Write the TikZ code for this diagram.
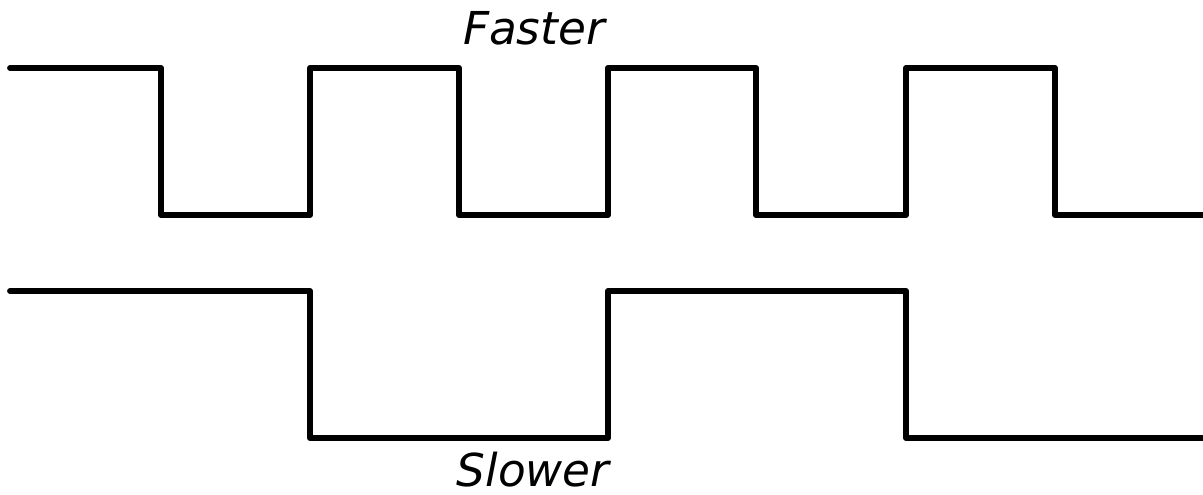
\documentclass[tikz,border=0pt]{standalone}
\usepackage{fontspec}
\setmainfont{DejaVu Sans}
\begin{document}
\begin{tikzpicture}[x=0.75pt,y=-0.75pt,
  wave/.style={line width=4.4pt,line join=round,line cap=round},
  lbl/.style={font=\fontsize{34}{40}\selectfont\itshape,inner sep=0pt,anchor=base}]
\useasboundingbox (0,0) rectangle (1203,495);
\draw[wave] (10,68) -- (161,68) -- (161,215) -- (310,215) -- (310,68) -- (459,68) -- (459,215) -- (608,215) -- (608,68) -- (756,68) -- (756,215) -- (906,215) -- (906,68) -- (1055,68) -- (1055,215) -- (1210,215);
\draw[wave] (10,291) -- (310,291) -- (310,438) -- (608,438) -- (608,291) -- (906,291) -- (906,438) -- (1210,438);
\node[lbl] (fast) at (534,45) {Faster};
\node[lbl] (slow) at (533,486) {Slower};
\end{tikzpicture}
\end{document}
